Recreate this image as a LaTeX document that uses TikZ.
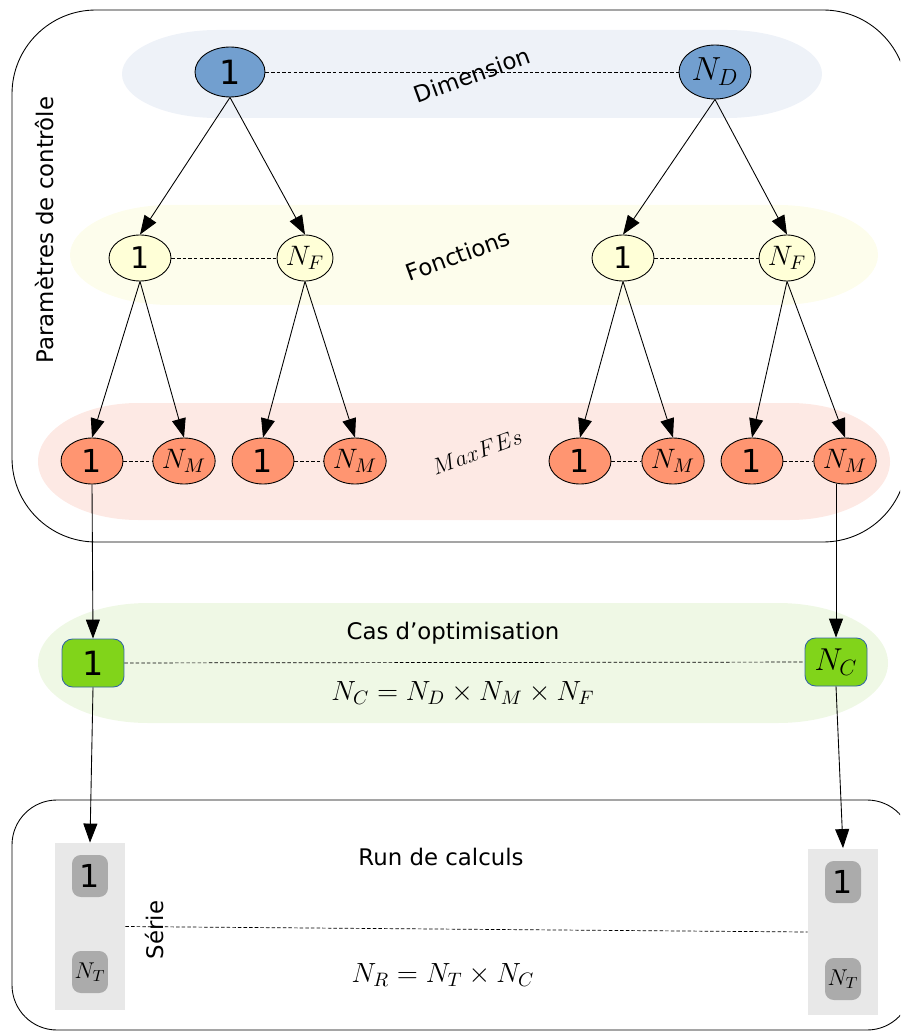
\documentclass[tikz,border=0pt]{standalone}
\usepackage{fix-cm}
\usepackage{amsmath}
\usepackage{fontspec}
\setmainfont{DejaVu Sans}
\usepackage{tikz}
\usetikzlibrary{shapes, positioning, arrows.meta, calc}

\definecolor{dimbg}{HTML}{EEF2F8}
\definecolor{dimblue}{HTML}{729FCF}
\definecolor{fctbg}{HTML}{FDFDEC}
\definecolor{fctyellow}{HTML}{FFFFD7}
\definecolor{febg}{HTML}{FDE9E4}
\definecolor{fesalmon}{HTML}{FF9571}
\definecolor{casbg}{HTML}{EFF8E5}
\definecolor{casgreen}{HTML}{81D41A}
\definecolor{casblue}{HTML}{3465A4}
\definecolor{runbg}{HTML}{E8E8E8}
\definecolor{rungray}{HTML}{ABABAB}

\begin{document}
\begin{tikzpicture}[x=0.02cm, y=-0.02cm, line width=0.5pt,
    dimnode/.style={ellipse, draw, fill=dimblue, inner sep=0pt, minimum width=1.4cm, minimum height=1.0cm, font=\fontsize{19}{19}\selectfont},
    fctnode/.style={ellipse, draw, fill=fctyellow, inner sep=0pt, minimum width=1.24cm, minimum height=0.92cm, font=\fontsize{17}{17}\selectfont},
    fenode/.style={ellipse, draw, fill=fesalmon, inner sep=0pt, minimum width=1.24cm, minimum height=0.92cm, font=\fontsize{18}{18}\selectfont},
    casnode/.style={rectangle, rounded corners=6pt, draw=casblue, fill=casgreen, inner sep=0pt, minimum width=1.24cm, minimum height=0.96cm, font=\fontsize{19}{19}\selectfont},
    runnode/.style={rectangle, rounded corners=5pt, fill=rungray, inner sep=0pt, minimum width=0.72cm, minimum height=0.84cm, font=\fontsize{18}{18}\selectfont},
    runbox/.style={rectangle, fill=runbg, inner sep=0pt, minimum width=1.4cm, minimum height=3.34cm},
    nfont/.style={font=\fontsize{16}{16}\selectfont},
    lbl/.style={font=\fontsize{13}{13}\selectfont, inner sep=0pt},
    formula/.style={font=\fontsize{15.8}{16}\selectfont, inner sep=0pt},
    arr/.style={-{Triangle[length=0.38cm, width=0.28cm]}},
    dotline/.style={dash pattern=on 2pt off 1.2pt, line width=0.4pt}]

    \useasboundingbox (0,0) rectangle (900,1033);
    \clip (0,0) rectangle (900,1033);

    \draw[rounded corners=1.68cm] (12,10) rectangle (907,542);
    \draw[rounded corners=0.9cm] (12,800) rectangle (912,1030);

    \fill[dimbg] (217,30) -- (727,30) arc[start angle=-90, end angle=90, x radius=95, y radius=44]
        -- (217,118) arc[start angle=90, end angle=270, x radius=95, y radius=44] -- cycle;
    \fill[fctbg] (170,205) -- (778,205) arc[start angle=-90, end angle=90, x radius=100, y radius=50]
        -- (170,305) arc[start angle=90, end angle=270, x radius=100, y radius=50] -- cycle;
    \fill[febg] (138,403) -- (790,403) arc[start angle=-90, end angle=90, x radius=100, y radius=58.5]
        -- (138,520) arc[start angle=90, end angle=270, x radius=100, y radius=58.5] -- cycle;
    \fill[casbg] (148,603) -- (778,603) arc[start angle=-90, end angle=90, x radius=110, y radius=60]
        -- (148,723) arc[start angle=90, end angle=270, x radius=110, y radius=60] -- cycle;

    \node[lbl, rotate=90] (param) at (45,230) {Paramètres de contrôle};

    \node[dimnode] (dim1) at (230,72) {1};
    \node[dimnode, minimum width=1.44cm, minimum height=1.08cm] (dimN) at (715,72) {$N_D$};
    \draw[dotline] (dim1) -- (dimN);
    \node[lbl, rotate=20] (dimlbl) at (472,75) {Dimension};

    \node[fctnode] (fctA1) at (140,258) {1};
    \node[fctnode, nfont, minimum width=1.12cm] (fctAN) at (305,258) {$N_F$};
    \node[fctnode] (fctB1) at (623,258) {1};
    \node[fctnode, nfont, minimum width=1.12cm] (fctBN) at (787,258) {$N_F$};
    \draw[dotline] (fctA1) -- (fctAN);
    \draw[dotline] (fctB1) -- (fctBN);
    \node[lbl, rotate=20] (fctlbl) at (458,255) {Fonctions};

    \draw[arr] (dim1.south) -- (fctA1.north);
    \draw[arr] (dim1.south) -- (fctAN.north);
    \draw[arr] (dimN.south) -- (fctB1.north);
    \draw[arr] (dimN.south) -- (fctBN.north);

    \node[fenode] (feA1) at (92,461) {1};
    \node[fenode, nfont, minimum width=1.08cm] (feAN) at (184,461) {$N_M$};
    \node[fenode] (feB1) at (263,461) {1};
    \node[fenode, nfont, minimum width=1.08cm] (feBN) at (355,461) {$N_M$};
    \node[fenode] (feC1) at (580,461) {1};
    \node[fenode, nfont, minimum width=1.08cm] (feCN) at (673,461) {$N_M$};
    \node[fenode] (feD1) at (752,461) {1};
    \node[fenode, nfont, minimum width=1.08cm] (feDN) at (845,461) {$N_M$};
    \draw[dotline] (feA1) -- (feAN);
    \draw[dotline] (feB1) -- (feBN);
    \draw[dotline] (feC1) -- (feCN);
    \draw[dotline] (feD1) -- (feDN);
    \node[rotate=20, font=\fontsize{13}{13}\selectfont, inner sep=0pt] (felbl) at (477,452) {$MaxFEs$};

    \draw[arr] (fctA1.south) -- (feA1.north);
    \draw[arr] (fctA1.south) -- (feAN.north);
    \draw[arr] (fctAN.south) -- (feB1.north);
    \draw[arr] (fctAN.south) -- (feBN.north);
    \draw[arr] (fctB1.south) -- (feC1.north);
    \draw[arr] (fctB1.south) -- (feCN.north);
    \draw[arr] (fctBN.south) -- (feD1.north);
    \draw[arr] (fctBN.south) -- (feDN.north);

    \node[casnode] (cas1) at (93,663) {1};
    \node[casnode, font=\fontsize{18}{18}\selectfont] (casN) at (836,662) {$N_C$};
    \draw[dotline] (cas1) -- (casN);
    \node[lbl] (caslbl) at (453,633) {Cas d’optimisation};
    \node[formula] (casform) at (463,693) {$N_C = N_D \times N_M \times N_F$};

    \draw[arr] (feA1.south) -- (cas1.north);
    \draw[arr] (feDN.south -| casN.north) -- (casN.north);

    \node[runbox] (runL) at (90,926.5) {};
    \node[runbox] (runR) at (843,932) {};
    \node[runnode] (runL1) at (90,876) {1};
    \node[runnode, font=\fontsize{13}{13}\selectfont] (runLN) at (90,972) {$N_T$};
    \node[runnode] (runR1) at (843,882) {1};
    \node[runnode, font=\fontsize{13}{13}\selectfont] (runRN) at (843,979) {$N_T$};
    \draw[dotline] (runL.east) -- (runR.west);
    \node[lbl, rotate=90] (serie) at (155,930) {Série};
    \node[lbl] (runlbl) at (441,857) {Run de calculs};
    \node[formula] (runform) at (443,975) {$N_R = N_T \times N_C$};

    \draw[arr] (cas1.south) -- (runL.north);
    \draw[arr] (casN.south) -- (runR.north);
\end{tikzpicture}
\end{document}
